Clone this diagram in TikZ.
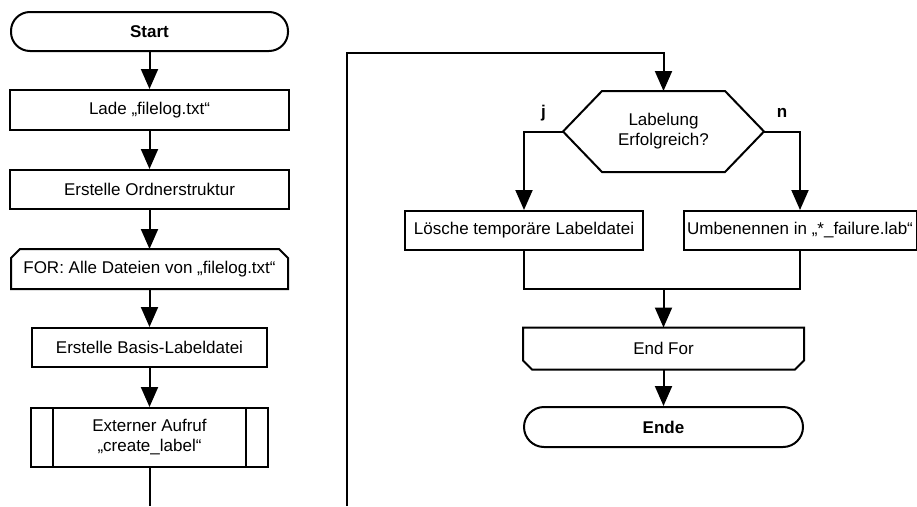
\documentclass[tikz,border=0pt]{standalone}
\usepackage{fontspec}
\setmainfont{Liberation Sans}
\usetikzlibrary{arrows.meta,calc}
\begin{document}
\begin{tikzpicture}[x=1pt,y=-1pt,
  line width=2pt,
  every node/.style={font=\fontsize{17}{20}\selectfont, align=center, inner sep=0pt},
  terminal/.style={draw, rounded corners=19pt, minimum height=39pt,
    font=\fontsize{17}{20}\selectfont\bfseries},
  proc/.style={draw, minimum height=39pt},
  outline/.style={minimum height=39pt},
  arr/.style={-{Triangle[length=20pt,width=17pt]}},
  branch/.style={font=\fontsize{17}{20}\selectfont\bfseries, anchor=base, yshift=14.5pt}
]
\useasboundingbox (0,0) rectangle (917,506);

% left column
\node[terminal, minimum width=277pt] (start) at (149.5,31.5) {Start};
\node[proc, minimum width=279pt, minimum height=40pt] (lade) at (149.5,110) {Lade „filelog.txt“};
\node[proc, minimum width=279pt] (ordner) at (149.5,189.5) {Erstelle Ordnerstruktur};
\node[outline, minimum width=275pt, minimum height=38pt] (loop) at (149.5,269) {FOR: Alle Dateien von „filelog.txt“};
\draw ($(loop.north west)+(0,9)$) -- ($(loop.north west)+(9,0)$) -- ($(loop.north east)+(-9,0)$)
  -- ($(loop.north east)+(0,9)$) -- (loop.south east) -- (loop.south west) -- cycle;
\node[proc, minimum width=235pt] (basis) at (149.5,347.5) {Erstelle Basis-Labeldatei};
\node[proc, minimum width=237pt, minimum height=59pt] (ext) at (149.5,437.5) {Externer Aufruf\\„create\_label“};
\draw ($(ext.north west)+(23,0)$) -- ($(ext.south west)+(23,0)$);
\draw ($(ext.north east)+(-23,0)$) -- ($(ext.south east)+(-23,0)$);
\coordinate (leftout) at (149.5,506);

\draw[arr] (start) -- (lade);
\draw[arr] (lade) -- (ordner);
\draw[arr] (ordner) -- (loop);
\draw[arr] (loop) -- (basis);
\draw[arr] (basis) -- (ext);
\draw (ext.south) -- (leftout);

% right column
\coordinate (loopin) at (347,506);
\coordinate (looptop) at (347,52.5);
\node[outline, minimum width=199pt, minimum height=79pt] (dec) at (663.5,131.5) {Labelung\\Erfolgreich?};
\draw (dec.west) -- ($(dec.north west)+(39,0)$) -- ($(dec.north east)+(-39,0)$) -- (dec.east)
  -- ($(dec.south east)+(-39,0)$) -- ($(dec.south west)+(39,0)$) -- cycle;
\node[proc, minimum width=238pt] (loesche) at (524,230.5) {Lösche temporäre Labeldatei};
\node[proc, minimum width=233pt] (umben) at (800,230.5) {Umbenennen in „*\_failure.lab“};
\coordinate (join) at (663.5,289);
\node[outline, minimum width=279pt, minimum height=40pt] (endfor) at (663.5,348.5) {End For};
\draw (endfor.north west) -- (endfor.north east) -- ($(endfor.south east)+(0,-9)$)
  -- ($(endfor.south east)+(-9,0)$) -- ($(endfor.south west)+(9,0)$)
  -- ($(endfor.south west)+(0,-9)$) -- cycle;
\node[terminal, minimum width=279pt, minimum height=40pt, rounded corners=20pt] (ende) at (663.5,427) {Ende};

\draw[arr] (loopin) -- (looptop) -| (dec.north);
\draw[arr] (dec.west) -| node[pos=0.25, branch] {j} (loesche.north);
\draw[arr] (dec.east) -| node[pos=0.25, branch] {n} (umben.north);
\draw (loesche.south) |- (join);
\draw (umben.south) |- (join);
\draw[arr] (join) -- (endfor.north);
\draw[arr] (endfor) -- (ende);
\end{tikzpicture}
\end{document}
